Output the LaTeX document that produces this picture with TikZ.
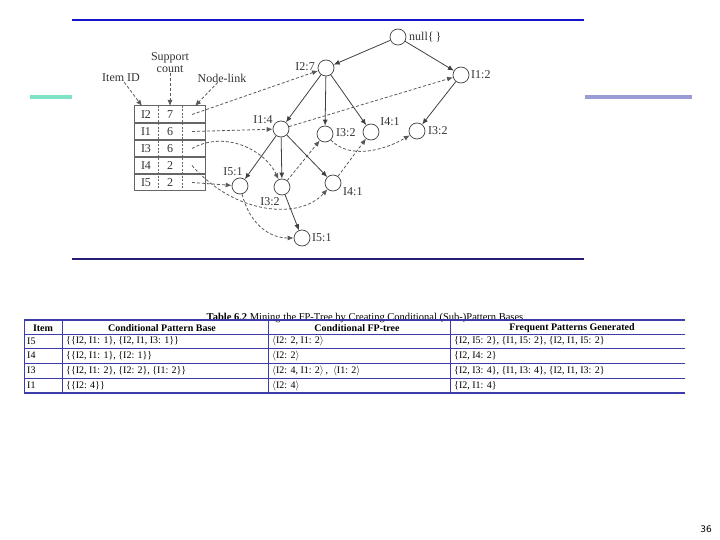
\documentclass[tikz,border=0pt]{standalone}
\usepackage{fontspec}
\setmainfont{Liberation Serif}
\newfontfamily\pagefont{DejaVu Sans}
\usetikzlibrary{arrows.meta}
\definecolor{topblue}{RGB}{20,20,200}
\definecolor{navyline}{RGB}{35,30,115}
\definecolor{tealbar}{RGB}{125,228,200}
\definecolor{lavbar}{RGB}{155,155,215}
\definecolor{tabblue}{RGB}{60,60,170}

\begin{document}
\begin{tikzpicture}[x=1pt,y=-1pt,
    fp/.style={circle,draw=black!75,line width=0.7pt,minimum size=16pt,inner sep=0pt},
    lbl/.style={font=\fontsize{12}{13}\selectfont,text=black!80,inner sep=0pt},
    tree/.style={draw=black!75,line width=0.8pt,-{Latex[length=6pt,width=5pt]}},
    link/.style={draw=black!65,line width=0.8pt,dash pattern=on 3pt off 2pt,-{Latex[length=6pt,width=5pt]}},
    cell/.style={font=\fontsize{10}{11}\selectfont,anchor=west,inner sep=0pt},
    head/.style={font=\bfseries\fontsize{10}{11}\selectfont,inner sep=0pt},
    tabrule/.style={draw=tabblue,line width=0.9pt}]
  \useasboundingbox (0,0) rectangle (720,540);

  % slide frame
  \draw[topblue,line width=2.5pt] (72,20) -- (584,20);
  \draw[navyline,line width=2.5pt] (72,259) -- (584,259);
  \draw[tealbar,line width=4pt] (30,97) -- (72,97);
  \draw[lavbar,line width=4pt] (585,97) -- (692,97);

  % header table
  \draw[black!60,line width=1pt] (134,106) rectangle (205,191);
  \foreach \y in {123,140,157,174}
    \draw[black!60,line width=1.2pt] (134,\y) -- (205,\y);
  \foreach \x in {158,182}
    \draw[black!60,dash pattern=on 2pt off 1.5pt] (\x,106) -- (\x,191);
  \foreach \it/\cnt/\y/\n in {I2/7/114.5/2,I1/6/131.5/1,I3/6/148.5/3,I4/2/165.5/4,I5/2/182.5/5} {
    \node[lbl] (item\n) at (146,\y) {\it};
    \node[lbl] (cnt\n) at (170,\y) {\cnt};
    \coordinate (lk\n) at (192,\y);
  }
  \node[lbl] (hid) at (121,78) {Item ID};
  \node[lbl,align=center,font=\fontsize{12}{12}\selectfont] (hsup) at (170,63) {Support\\count};
  \node[lbl] (hlink) at (222,78) {Node-link};
  \coordinate (c1) at (142,106);
  \coordinate (c2) at (170,106);
  \coordinate (c3) at (195,106);
  \draw[link] (hid) -- (c1);
  \draw[link] (hsup) -- (c2);
  \draw[link] (hlink) -- (c3);

  % FP-tree
  \node[fp] (root) at (398,37) {};
  \node[fp] (i27) at (326,68) {};
  \node[fp] (i12) at (461,75) {};
  \node[fp] (i14) at (281,129) {};
  \node[fp] (i32a) at (325,134) {};
  \node[fp] (i41a) at (371,132) {};
  \node[fp] (i32b) at (417,131) {};
  \node[fp] (i51a) at (240,186) {};
  \node[fp] (i32c) at (282,187) {};
  \node[fp] (i41b) at (333,183) {};
  \node[fp] (i51b) at (302,238) {};

  \node[lbl,anchor=west] at (409,37) {null\{\,\}};
  \node[lbl,anchor=east] at (315,67) {I2:7};
  \node[lbl,anchor=west] at (471,75) {I1:2};
  \node[lbl] at (263,120) {I1:4};
  \node[lbl,anchor=west] at (336,133) {I3:2};
  \node[lbl] at (390,122) {I4:1};
  \node[lbl,anchor=west] at (428,131) {I3:2};
  \node[lbl] at (233,172) {I5:1};
  \node[lbl] at (270,202) {I3:2};
  \node[lbl,anchor=west] at (343,192) {I4:1};
  \node[lbl,anchor=west] at (312,238) {I5:1};

  \draw[tree] (root) -- (i27);
  \draw[tree] (root) -- (i12);
  \draw[tree] (i27) -- (i14);
  \draw[tree] (i27) -- (i32a);
  \draw[tree] (i27) -- (i41a);
  \draw[tree] (i12) -- (i32b);
  \draw[tree] (i14) -- (i51a);
  \draw[tree] (i14) -- (i32c);
  \draw[tree] (i14) -- (i41b);
  \draw[tree] (i32c) -- (i51b);

  % node-links
  \draw[link] (lk2) -- (i27);
  \draw[link] (lk1) -- (i14);
  \draw[link] (i14) -- (i12);
  \draw[link] (lk3) .. controls (225,130) and (265,150) .. (i32c);
  \draw[link] (i32c) -- (i32a);
  \draw[link] (i32a) .. controls (350,160) and (385,150) .. (i32b);
  \draw[link] (lk4) .. controls (235,215) and (300,220) .. (i41b);
  \draw[link] (i41b) -- (i41a);
  \draw[link] (lk5) -- (i51a);
  \draw[link] (i51a) .. controls (250,225) and (270,238) .. (i51b);

  % table 6.2
  \node[font=\fontsize{10.5}{11}\selectfont,inner sep=0pt] (cap) at (365,318)
    {\textbf{Table 6.2} Mining the FP-Tree by Creating Conditional (Sub-)Pattern Bases};
  \draw[tabrule,line width=1.3pt] (24,320) -- (685,320);
  \draw[tabrule,line width=1.3pt] (24,393) -- (685,393);
  \foreach \y in {334,348,363,378}
    \draw[tabrule] (24,\y) -- (685,\y);
  \foreach \x in {24,62,268,450}
    \draw[tabrule,line width=0.8pt] (\x,320) -- (\x,393);

  \node[head] (hitem) at (43,328) {Item};
  \node[head] (hbase) at (162,328) {Conditional Pattern Base};
  \node[head] (htree) at (357,328) {Conditional FP-tree};
  \node[head] (hfreq) at (572,328) {Frequent Patterns Generated};

  \foreach \it/\base/\cond/\freq/\y in {
      I5/{\{\{I2, I1: 1\}, \{I2, I1, I3: 1\}\}}/{$\langle$I2: 2, I1: 2$\rangle$}/{\{I2, I5: 2\}, \{I1, I5: 2\}, \{I2, I1, I5: 2\}}/341,
      I4/{\{\{I2, I1: 1\}, \{I2: 1\}\}}/{$\langle$I2: 2$\rangle$}/{\{I2, I4: 2\}}/355.5,
      I3/{\{\{I2, I1: 2\}, \{I2: 2\}, \{I1: 2\}\}}/{$\langle$I2: 4, I1: 2$\rangle$\,,\enspace$\langle$I1: 2$\rangle$}/{\{I2, I3: 4\}, \{I1, I3: 4\}, \{I2, I1, I3: 2\}}/370.5,
      I1/{\{\{I2: 4\}\}}/{$\langle$I2: 4$\rangle$}/{\{I2, I1: 4\}}/385.5} {
    \node[cell] at (27,\y) {\it};
    \node[cell] at (66,\y) {\base};
    \node[cell] at (272,\y) {\cond};
    \node[cell] at (454,\y) {\freq};
  }

  \node[font=\pagefont\fontsize{9}{10}\selectfont,inner sep=0pt] (pnum) at (706,529) {36};
\end{tikzpicture}
\end{document}
